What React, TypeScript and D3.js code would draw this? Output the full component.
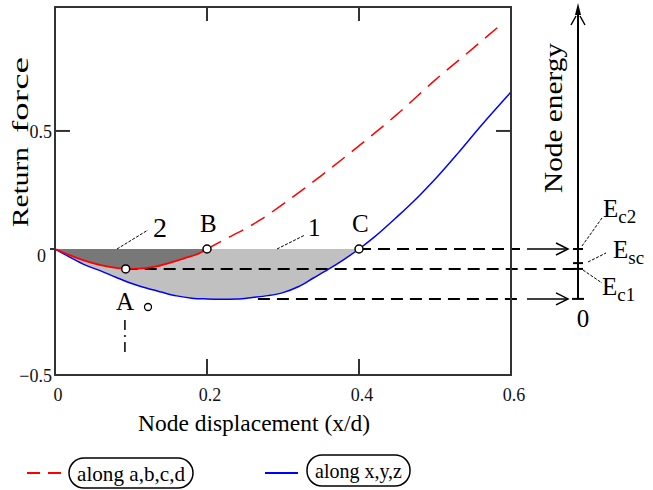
import React from 'react';
import * as d3 from 'd3';

// along a,b,c,d (red dashed)
const dispA = [0, 0.02, 0.04, 0.06, 0.08, 0.093, 0.11, 0.13, 0.15, 0.17, 0.19, 0.2, 0.22, 0.25, 0.27, 0.3, 0.35, 0.4, 0.45, 0.5, 0.55, 0.583];
const forceA = [0, -0.025, -0.047, -0.064, -0.075, -0.079, -0.078, -0.071, -0.056, -0.037, -0.017, 0, 0.035, 0.085, 0.123, 0.19, 0.31, 0.437, 0.57, 0.715, 0.85, 0.94];

// along x,y,z (blue solid)
const dispX = [0, 0.02, 0.04, 0.06, 0.08, 0.1, 0.12, 0.14, 0.16, 0.18, 0.2, 0.22, 0.24, 0.26, 0.28, 0.3, 0.32, 0.34, 0.36, 0.38, 0.4, 0.42, 0.45, 0.48, 0.5, 0.53, 0.56, 0.6];
const forceX = [0, -0.033, -0.064, -0.087, -0.112, -0.136, -0.155, -0.171, -0.186, -0.195, -0.198, -0.199, -0.198, -0.192, -0.185, -0.173, -0.15, -0.115, -0.08, -0.042, 0, 0.05, 0.136, 0.228, 0.295, 0.405, 0.52, 0.665];

const xTicks = [0, 0.2, 0.4, 0.6];
const xTickLabels = ['0', '0.2', '0.4', '0.6'];
const yTicks = [0.5, 0, -0.5];
const yTickLabels = ['0.5', '0', '\u22120.5'];

// points A, B, C
const markNames = ['A', 'B', 'C'];
const markX = [0.093, 0.2, 0.4];
const markY = [-0.079, 0, 0];

// energy levels projected onto the energy axis
const levelY = [0, -0.056, -0.079];
const levelNames = ['c2', 'sc', 'c1'];
const minLevel = -0.198;

const legendNames = ['along a,b,c,d', 'along x,y,z'];
const legendColors = ['#ff0000', '#0000ff'];

const font = '"Liberation Serif", "Times New Roman", serif';

export default function App() {
  const x = d3.scaleLinear().domain([0, 0.6]).range([55, 511]);
  const y = d3.scaleLinear().domain([-0.5, 0, 1.025]).range([375, 249, 7]);

  const ptsA: [number, number][] = dispA.map((d, i) => [d, forceA[i]]);
  const ptsX: [number, number][] = dispX.map((d, i) => [d, forceX[i]]);

  const line = d3.line<[number, number]>()
    .x((d) => x(d[0]))
    .y((d) => y(d[1]))
    .curve(d3.curveMonotoneX);
  const area = d3.area<[number, number]>()
    .x((d) => x(d[0]))
    .y0(y(0))
    .y1((d) => y(d[1]))
    .curve(d3.curveMonotoneX);

  const eAxisX = 578;
  const arrowEnd = 568;

  return (
    <svg width={653} height={490} style={{ position: 'absolute', left: 0, top: 0 }} fontFamily={font}>
      <rect width={653} height={490} fill="#fff" />

      {/* shaded regions */}
      <path d={area(ptsX.filter((d) => d[0] <= 0.4)) || ''} fill="#c0c0c0" />
      <path d={area(ptsA.filter((d) => d[0] <= 0.2)) || ''} fill="#787878" />

      {/* guide lines to the energy axis */}
      <line x1={x(0.4)} x2={520} y1={y(levelY[0])} y2={y(levelY[0])} stroke="#000" strokeWidth={2} strokeDasharray="12,7" />
      <line x1={x(0.093)} x2={eAxisX} y1={y(levelY[2])} y2={y(levelY[2])} stroke="#000" strokeWidth={2} strokeDasharray="12,7" />
      <line x1={x(0.267)} x2={520} y1={y(minLevel)} y2={y(minLevel)} stroke="#000" strokeWidth={2} strokeDasharray="12,7" />
      {[levelY[0], minLevel].map((v, i) => (
        <g key={i} stroke="#000" strokeWidth={1.5} fill="none">
          <line x1={527} x2={arrowEnd} y1={y(v)} y2={y(v)} />
          <path d={`M${arrowEnd - 12},${y(v) - 6}L${arrowEnd},${y(v)}L${arrowEnd - 12},${y(v) + 6}`} />
        </g>
      ))}

      {/* curves */}
      <path d={line(ptsX) || ''} fill="none" stroke="#0000ff" strokeWidth={1.5} />
      <path d={line(ptsA.filter((d) => d[0] <= 0.2)) || ''} fill="none" stroke="#ff0000" strokeWidth={1.8} />
      <path d={line(ptsA.filter((d) => d[0] >= 0.2)) || ''} fill="none" stroke="#ff0000" strokeWidth={1.5} strokeDasharray="16,9" />

      {/* frame and ticks */}
      <rect x={55} y={7} width={456} height={368} fill="none" stroke="#333" strokeWidth={2} />
      {xTicks.slice(1, 3).map((t) => (
        <g key={t} stroke="#333" strokeWidth={2}>
          <line x1={x(t)} x2={x(t)} y1={7} y2={21} />
          <line x1={x(t)} x2={x(t)} y1={359} y2={375} />
        </g>
      ))}
      <g stroke="#333" strokeWidth={2}>
        <line x1={55} x2={70} y1={y(0.5)} y2={y(0.5)} />
        <line x1={496} x2={511} y1={y(0.5)} y2={y(0.5)} />
        <line x1={50} x2={55} y1={y(0)} y2={y(0)} />
      </g>

      {/* tick labels */}
      <g fontSize={18} fill="#111">
        {xTicks.map((t, i) => (
          <text key={t} x={x(t) + 3} y={401} textAnchor="middle">{xTickLabels[i]}</text>
        ))}
        {yTicks.map((t, i) => (
          <text key={t} x={t === 0 ? 46 : 52} y={y(t) + (t === 0 ? 13 : 7)} textAnchor="end">{yTickLabels[i]}</text>
        ))}
      </g>

      {/* axis titles */}
      <text x={138} y={431} fontSize={24} textLength={232} lengthAdjust="spacingAndGlyphs">Node displacement  (x/d)</text>
      <g transform="translate(28,227) rotate(-90)" fontSize={24}>
        <text x={0} y={0} textLength={80} lengthAdjust="spacingAndGlyphs">Return</text>
        <text x={94} y={0} textLength={76} lengthAdjust="spacingAndGlyphs">force</text>
      </g>
      <text transform="translate(562,193) rotate(-90)" fontSize={25} textLength={150} lengthAdjust="spacingAndGlyphs">Node energy</text>

      {/* region labels */}
      <g stroke="#000" strokeWidth={1} strokeDasharray="3,1.5">
        <line x1={117} y1={249} x2={148} y2={230} />
        <line x1={277} y1={249} x2={305} y2={235} />
      </g>
      <text x={153} y={237} fontSize={28}>2</text>
      <text x={308} y={236} fontSize={25}>1</text>

      {/* dash-dot drop line below A */}
      <line x1={x(0.092)} x2={x(0.092)} y1={320} y2={357} stroke="#000" strokeWidth={1.5} strokeDasharray="10,5,2,5" />

      {/* points */}
      {markNames.map((n, i) => (
        <circle key={n} cx={x(markX[i])} cy={y(markY[i])} r={4} fill="#fff" stroke="#000" strokeWidth={1.5} />
      ))}
      <text x={116} y={310} fontSize={25}>{markNames[0]}</text>
      <circle cx={148} cy={307} r={3.5} fill="#fff" stroke="#000" strokeWidth={1.3} />
      <text x={200} y={232} fontSize={25}>{markNames[1]}</text>
      <text x={352} y={232} fontSize={25}>{markNames[2]}</text>

      {/* energy axis */}
      <g stroke="#000" strokeWidth={2}>
        <line x1={eAxisX} x2={eAxisX} y1={y(minLevel)} y2={14} />
        <line x1={eAxisX - 6} x2={eAxisX + 6} y1={y(minLevel)} y2={y(minLevel)} />
        {levelY.map((v) => (
          <line key={v} x1={eAxisX - 5} x2={eAxisX + 5} y1={y(v)} y2={y(v)} />
        ))}
      </g>
      <path d={`M${eAxisX},3L${eAxisX + 3},15L${eAxisX - 3},15Z`} fill="#000" />
      <path d={`M${eAxisX - 7},25L${eAxisX - 2},16M${eAxisX + 7},25L${eAxisX + 2},16`} stroke="#000" strokeWidth={1.5} fill="none" />
      <text x={eAxisX + 5} y={327} fontSize={25} textAnchor="middle">0</text>

      <g stroke="#000" strokeWidth={1} strokeDasharray="3,1.5">
        <line x1={582} y1={246} x2={602} y2={218} />
        <line x1={588} y1={262} x2={606} y2={253} />
        <line x1={583} y1={270} x2={602} y2={283} />
      </g>
      {levelNames.map((n, i) => {
        const pos = [[603, 217], [613, 258], [602, 295]][i];
        return (
          <text key={n} x={pos[0]} y={pos[1]} fontSize={25}>
            E<tspan dy={6} fontSize={19}>{n}</tspan>
          </text>
        );
      })}

      {/* legend */}
      <line x1={27} x2={62} y1={473} y2={473} stroke={legendColors[0]} strokeWidth={1.8} strokeDasharray="13,8" />
      <rect x={69} y={458} width={124} height={30} rx={15} fill="none" stroke="#000" strokeWidth={1.5} />
      <text x={77} y={481} fontSize={22} textLength={108} lengthAdjust="spacingAndGlyphs">{legendNames[0]}</text>
      <line x1={265} x2={298} y1={473} y2={473} stroke={legendColors[1]} strokeWidth={1.8} />
      <rect x={307} y={455} width={103} height={31} rx={15} fill="none" stroke="#000" strokeWidth={1.5} />
      <text x={315} y={478} fontSize={22} textLength={87} lengthAdjust="spacingAndGlyphs">{legendNames[1]}</text>
    </svg>
  );
}
